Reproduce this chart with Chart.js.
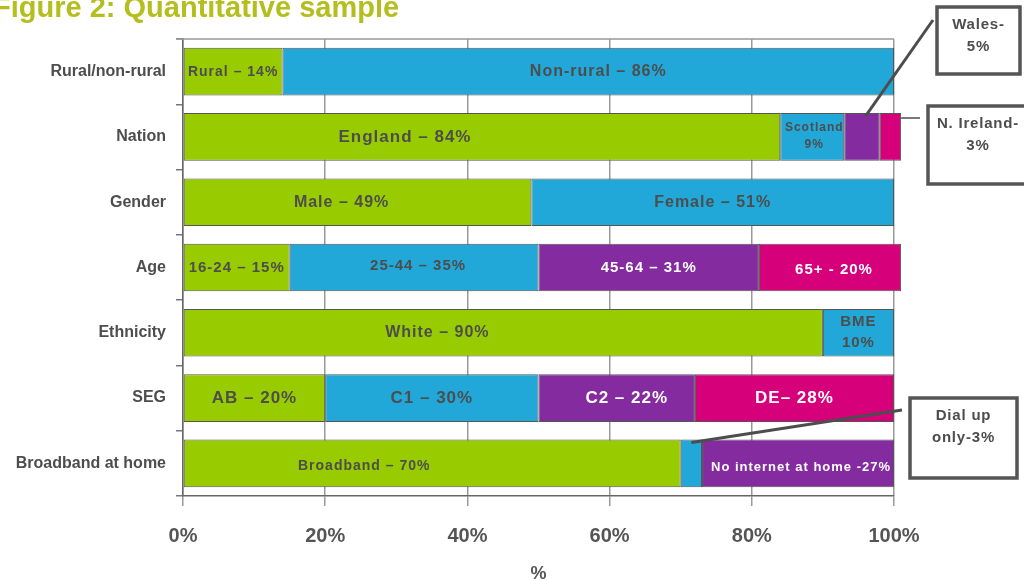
<!DOCTYPE html>
<html>
<head>
<meta charset="utf-8">
<script src="https://cdn.jsdelivr.net/npm/chart.js@4"></script>
<style>
	html, body { margin: 0; padding: 0; background: #ffffff; }
	#wrap { position: relative; width: 1024px; height: 580px; }
</style>
</head>
<body>
<div id="wrap"><canvas id="sampleChart" width="1024" height="580"></canvas></div>
<script>
// Sample breakdown, % of respondents
const categories = ['Rural/non-rural', 'Nation', 'Gender', 'Age', 'Ethnicity', 'SEG', 'Broadband at home'];
const greenValues = [14, 84, 49, 15, 90, 20, 70];
const blueValues = [86, 9, 51, 35, 10, 30, 3];
const purpleValues = [null, 5, null, 31, null, 22, 27];
const pinkValues = [null, 3, null, 20, null, 28, null];

const greenLabels = ['Rural – 14%', 'England – 84%', 'Male – 49%', '16-24 – 15%', 'White – 90%', 'AB – 20%', 'Broadband – 70%'];
const blueLabels = ['Non-rural – 86%', 'Scotland\n9%', 'Female – 51%', '25-44 – 35%', 'BME\n10%', 'C1 – 30%', ''];
const purpleLabels = ['', '', '', '45-64 – 31%', '', 'C2 – 22%', 'No internet at home -27%'];
const pinkLabels = ['', '', '', '65+ - 20%', '', 'DE– 28%', ''];

const xTicks = [0, 20, 40, 60, 80, 100];

// callouts for the thin segments: [dataset, category, text]
const callouts = [
	[2, 1, 'Wales-\n5%'],
	[3, 1, 'N. Ireland-\n3%'],
	[1, 6, 'Dial up\nonly-3%']
];

// label look
const labelSizes = [
	[14, 17, 16, 15, 16, 17, 14],
	[16, 12, 16, 15, 15, 17, 0],
	[0, 0, 0, 15, 0, 17, 13],
	[0, 0, 0, 15, 0, 17, 0]
];
const labelShift = {
	'0-1': [-77, 0], '0-2': [-16, 0], '0-4': [-66, 0], '0-6': [-68, 3],
	'1-0': [10, 0], '1-1': [2, -1], '1-3': [4, -2], '2-5': [10, 0], '2-6': [3, 4], '3-3': [4, 2]
};
const calloutBoxes = [
	{ box: [937, 7, 83, 67], anchor: [0.6, 3], end: [933, 20], width: 3 },
	{ box: [928, 106, 100, 78], anchor: [1.0, 4], end: [920, 118], width: 1.5, horizontal: true },
	{ box: [910, 398, 107, 80], anchor: [0.5, 3], end: [902, 410], width: 3 }
];

const darkText = '#4d4d4d';
const fontFamily = "'Liberation Sans', Arial, sans-serif";

// title cut off at the top-left corner, like the source figure
const titlePlugin = {
	id: 'figTitle',
	afterDraw(chart) {
		const ctx = chart.ctx;
		ctx.save();
		ctx.font = 'bold 29px ' + fontFamily;
		ctx.fillStyle = '#b4be1e';
		ctx.textBaseline = 'alphabetic';
		ctx.fillText('Figure 2: Quantitative sample', -7, 17);
		ctx.restore();
	}
};

// top border line of the plot
const framePlugin = {
	id: 'frame',
	beforeDatasetsDraw(chart) {
		const ctx = chart.ctx;
		const a = chart.chartArea;
		ctx.save();
		ctx.strokeStyle = '#999999';
		ctx.lineWidth = 1.5;
		ctx.beginPath();
		ctx.moveTo(a.left - 7, a.top);
		ctx.lineTo(a.right, a.top);
		ctx.stroke();
		ctx.restore();
	}
};

// text inside the segments
const segLabelPlugin = {
	id: 'segLabels',
	afterDatasetsDraw(chart) {
		const ctx = chart.ctx;
		ctx.save();
		ctx.textAlign = 'center';
		ctx.textBaseline = 'middle';
		ctx.letterSpacing = '1px';
		chart.data.datasets.forEach((ds, d) => {
			const meta = chart.getDatasetMeta(d);
			meta.data.forEach((el, i) => {
				const text = ds.segLabels[i];
				if (!text) return;
				const size = labelSizes[d][i];
				const shift = labelShift[d + '-' + i] || [0, 0];
				const cx = (el.x + el.base) / 2 + shift[0];
				const cy = el.y + shift[1];
				const lines = text.split('\n');
				const lh = size * 1.4;
				ctx.font = 'bold ' + size + 'px ' + fontFamily;
				ctx.fillStyle = d < 2 ? darkText : '#ffffff';
				lines.forEach((ln, k) => {
					ctx.fillText(ln, cx, cy + (k - (lines.length - 1) / 2) * lh);
				});
			});
		});
		ctx.restore();
	}
};

// boxed callouts with leader lines
const calloutPlugin = {
	id: 'callouts',
	afterDraw(chart) {
		const ctx = chart.ctx;
		ctx.save();
		callouts.forEach((c, n) => {
			const st = calloutBoxes[n];
			const el = chart.getDatasetMeta(c[0]).data[c[1]];
			const ax = el.base + (el.x - el.base) * st.anchor[0];
			const ay = el.y - el.height / 2 + st.anchor[1];
			ctx.strokeStyle = '#4d4d4d';
			ctx.lineWidth = st.width;
			ctx.beginPath();
			ctx.moveTo(ax, st.horizontal ? st.end[1] : ay);
			ctx.lineTo(st.end[0], st.end[1]);
			ctx.stroke();

			const [bx, by, bw, bh] = st.box;
			ctx.fillStyle = '#ffffff';
			ctx.fillRect(bx, by, bw, bh);
			ctx.lineWidth = 3.5;
			ctx.strokeStyle = '#555555';
			ctx.strokeRect(bx, by, bw, bh);

			ctx.font = 'bold 15px ' + fontFamily;
			ctx.letterSpacing = '0.8px';
			ctx.fillStyle = darkText;
			ctx.textAlign = 'center';
			ctx.textBaseline = 'middle';
			const cx = Math.min(bx + bw / 2, 980);
			c[2].split('\n').forEach((ln, k) => {
				ctx.fillText(ln, cx, by + 18 + k * 22);
			});
		});
		ctx.restore();
	}
};

function makeSet(label, values, labels, color) {
	return {
		label: label,
		data: values,
		segLabels: labels,
		backgroundColor: color,
		borderColor: '#555555',
		borderWidth: 1,
		borderSkipped: false,
		barPercentage: 0.73,
		categoryPercentage: 1.0,
		clip: false
	};
}

const ctx = document.getElementById('sampleChart').getContext('2d');
const sampleChart = new Chart(ctx, {
	type: 'bar',
	data: {
		labels: categories,
		datasets: [
			makeSet('green', greenValues, greenLabels, '#99cc00'),
			makeSet('blue', blueValues, blueLabels, '#21a8d8'),
			makeSet('purple', purpleValues, purpleLabels, '#852ba0'),
			makeSet('pink', pinkValues, pinkLabels, '#d5007a')
		]
	},
	options: {
		indexAxis: 'y',
		responsive: false,
		animation: false,
		layout: { padding: { top: 39, right: 130, bottom: 0, left: 0 } },
		plugins: {
			legend: { display: false },
			tooltip: { enabled: false }
		},
		scales: {
			x: {
				stacked: true,
				min: 0,
				max: 100,
				afterBuildTicks(scale) {
					scale.ticks = xTicks.map(v => ({ value: v }));
				},
				afterFit(scale) { scale.height = 84; },
				ticks: {
					color: '#555555',
					font: { family: fontFamily, size: 20, weight: 'bold' },
					padding: 18,
					callback: v => v + '%'
				},
				grid: { color: '#999999', lineWidth: 1.5, tickLength: 10 },
				border: { color: '#666666', width: 1.5 },
				title: {
					display: true,
					text: '%',
					color: '#555555',
					font: { family: fontFamily, size: 18, weight: 'bold' },
					padding: { top: 0, bottom: -5 }
				}
			},
			y: {
				stacked: true,
				afterFit(scale) { scale.width = 183; },
				ticks: {
					color: darkText,
					font: { family: fontFamily, size: 16, weight: 'bold' },
					padding: 10
				},
				grid: { drawOnChartArea: false, color: '#777777', lineWidth: 1.5, tickLength: 7, offset: true },
				border: { color: '#666666', width: 1.5 }
			}
		}
	},
	plugins: [framePlugin, segLabelPlugin, calloutPlugin, titlePlugin]
});
</script>
</body>
</html>
